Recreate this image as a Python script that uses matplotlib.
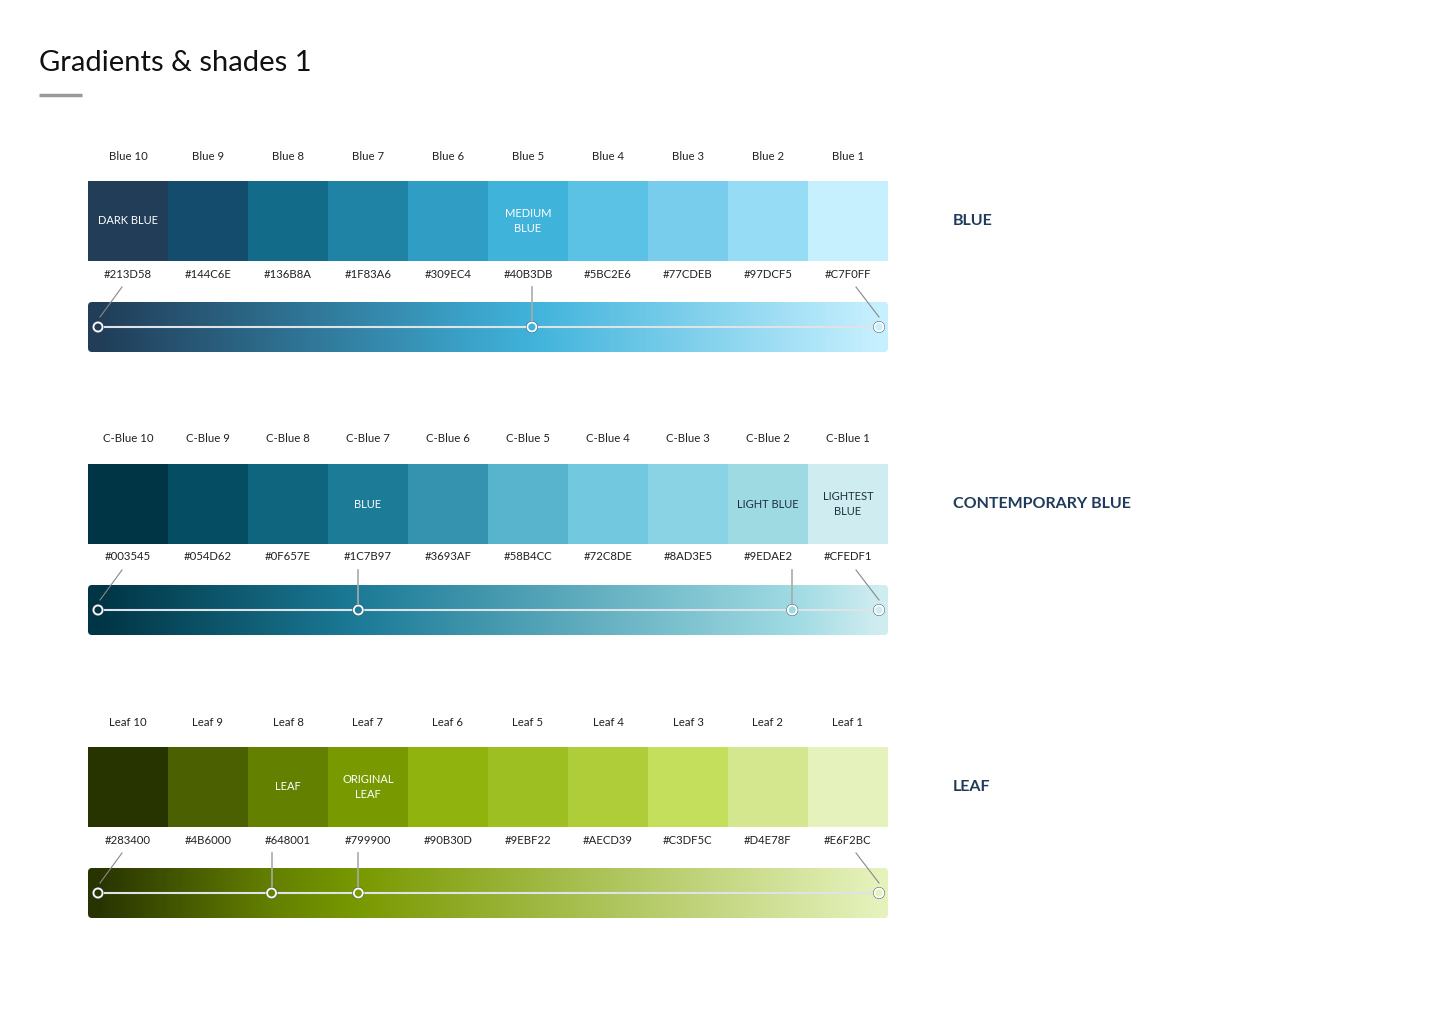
import numpy as np
import matplotlib
matplotlib.use("Agg")
import matplotlib.pyplot as plt
from matplotlib.colors import to_rgb
from matplotlib.patches import Rectangle, FancyBboxPatch, Circle

plt.rcParams["font.family"] = "Lato"

blue_names = ["Blue 10", "Blue 9", "Blue 8", "Blue 7", "Blue 6",
              "Blue 5", "Blue 4", "Blue 3", "Blue 2", "Blue 1"]
blue_hex = ["#213D58", "#144C6E", "#136B8A", "#1F83A6", "#309EC4",
            "#40B3DB", "#5BC2E6", "#77CDEB", "#97DCF5", "#C7F0FF"]
blue_tags = {0: "DARK BLUE", 5: "MEDIUM\nBLUE"}
blue_stops = [0, 5, 9]

cblue_names = ["C-Blue 10", "C-Blue 9", "C-Blue 8", "C-Blue 7", "C-Blue 6",
               "C-Blue 5", "C-Blue 4", "C-Blue 3", "C-Blue 2", "C-Blue 1"]
cblue_hex = ["#003545", "#054D62", "#0F657E", "#1C7B97", "#3693AF",
             "#58B4CC", "#72C8DE", "#8AD3E5", "#9EDAE2", "#CFEDF1"]
cblue_tags = {3: "BLUE", 8: "LIGHT BLUE", 9: "LIGHTEST\nBLUE"}
cblue_stops = [0, 3, 8, 9]

leaf_names = ["Leaf 10", "Leaf 9", "Leaf 8", "Leaf 7", "Leaf 6",
              "Leaf 5", "Leaf 4", "Leaf 3", "Leaf 2", "Leaf 1"]
leaf_hex = ["#283400", "#4B6000", "#648001", "#799900", "#90B30D",
            "#9EBF22", "#AECD39", "#C3DF5C", "#D4E78F", "#E6F2BC"]
leaf_tags = {2: "LEAF", 3: "ORIGINAL\nLEAF"}
leaf_stops = [0, 2, 3, 9]

sections = [
    ("BLUE", blue_names, blue_hex, blue_tags, blue_stops, 181),
    ("CONTEMPORARY BLUE", cblue_names, cblue_hex, cblue_tags, cblue_stops, 464),
    ("LEAF", leaf_names, leaf_hex, leaf_tags, leaf_stops, 747),
]

fig = plt.figure(figsize=(14.4, 10.24), dpi=100)
ax = fig.add_axes([0, 0, 1, 1])
ax.set_xlim(0, 1440)
ax.set_ylim(1024, 0)
ax.axis("off")

ax.text(39, 63, "Gradients & shades 1", fontsize=21, va="center", color="#111111")
ax.plot([39, 82], [95, 95], color="#999999", lw=2.5, solid_capstyle="butt")

x0, w, h = 88, 80, 80
dark_text = {"LIGHT BLUE", "LIGHTEST\nBLUE"}

for title, names, hexes, tags, stops, top in sections:
    for i, (n, c) in enumerate(zip(names, hexes)):
        xs = x0 + i * w
        ax.add_patch(Rectangle((xs, top), w, h, color=c, lw=0))
        ax.text(xs + w / 2, top - 25, n, fontsize=8.2, ha="center", va="center", color="#222222")
        ax.text(xs + w / 2, top + 93, c, fontsize=8.2, ha="center", va="center", color="#222222")
        if i in tags:
            tc = "#1F2F3F" if tags[i] in dark_text else "white"
            ax.text(xs + w / 2, top + h / 2, tags[i], fontsize=8, ha="center", va="center",
                    color=tc, linespacing=1.5)
    ax.text(953, top + h / 2, title, fontsize=11.5, fontweight="bold", va="center", color="#1F3A5A")

    # gradient bar through stop positions
    left, right = 98, 879
    px = [left + (x0 + s * w + w / 2 - x0 - w / 2) / (9 * w) * (right - left) for s in stops]
    cols = np.array([to_rgb(hexes[s]) for s in stops])
    xx = np.linspace(x0, x0 + 10 * w, 800)
    grad = np.stack([np.interp(xx, px, cols[:, k]) for k in range(3)], axis=-1)[None, :, :]
    by = top + 121
    im = ax.imshow(grad, extent=[x0, x0 + 10 * w, by + 50, by], aspect="auto", zorder=1)
    clip = FancyBboxPatch((x0, by), 10 * w, 50, boxstyle="round,pad=0,rounding_size=4",
                          transform=ax.transData, facecolor="none", edgecolor="none")
    ax.add_patch(clip)
    im.set_clip_path(clip)
    ly = by + 25
    ax.plot([px[0], px[-1]], [ly, ly], color="#DDE3E6", lw=1.5, zorder=2)
    for s, p in zip(stops, px):
        if s == 0:
            ax.plot([x0 + w / 2 - 6, p + 2], [top + 106, ly - 10], color="#888888", lw=0.8, zorder=2)
        elif s == 9:
            ax.plot([x0 + 9 * w + w / 2 + 8, p], [top + 106, ly - 10], color="#888888", lw=0.8, zorder=2)
        else:
            ax.plot([p, p], [top + 106, ly - 5], color="#AAAAAA", lw=1.2, zorder=2)
        ax.add_patch(Circle((p, ly), 5.5, facecolor=hexes[s], edgecolor="#445566", lw=0.6, zorder=3))
        ax.add_patch(Circle((p, ly), 4.5, facecolor=hexes[s], edgecolor="white", lw=1.3, zorder=4))

fig.savefig("out.png", dpi=100)
